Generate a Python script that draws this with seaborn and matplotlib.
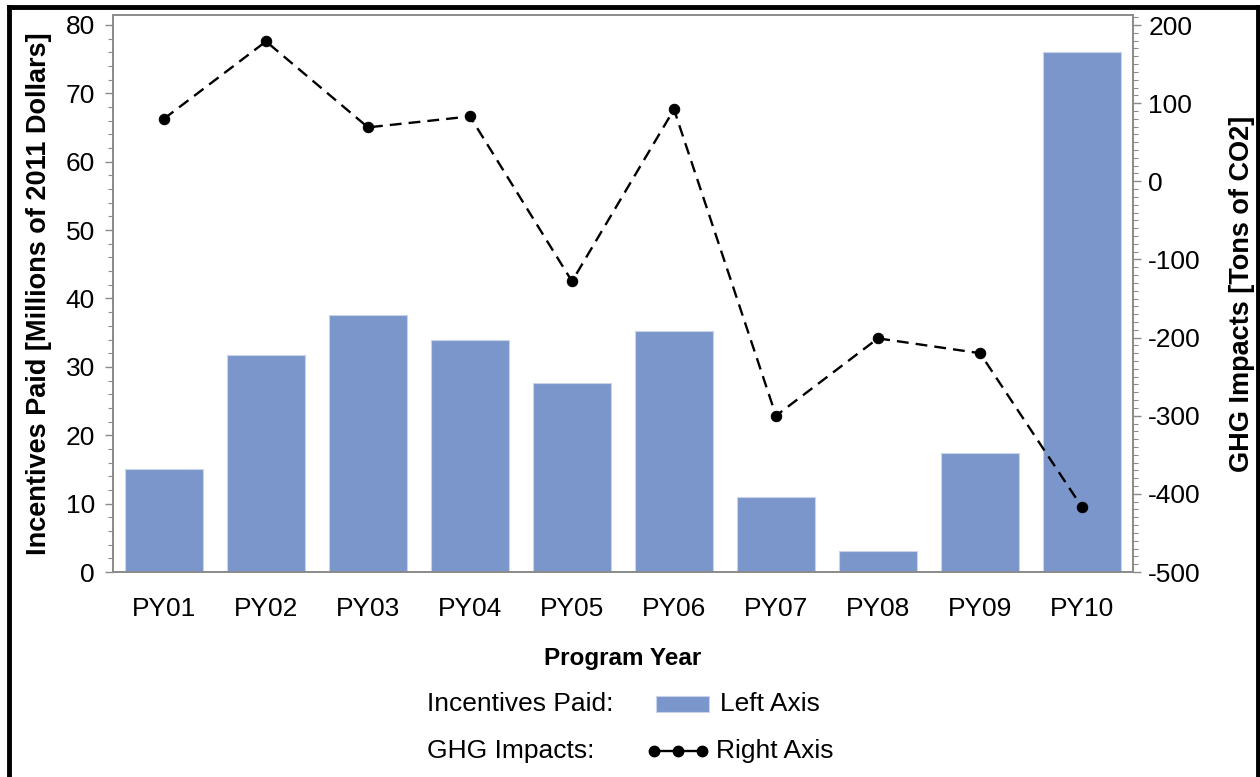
import numpy as np
import pandas as pd
import matplotlib
matplotlib.use("Agg")
import matplotlib.pyplot as plt
from matplotlib.lines import Line2D
from matplotlib.patches import Rectangle
from matplotlib.ticker import MultipleLocator
import seaborn as sns

# Данные
years = ["PY01", "PY02", "PY03", "PY04", "PY05", "PY06", "PY07", "PY08", "PY09", "PY10"]
incentives = [15.0, 31.7, 37.6, 34.0, 27.6, 35.3, 11.0, 3.0, 17.4, 76.1]
ghg = [80, 179, 69, 83, -128, 92, -300, -201, -220, -417]

bar_color = "#7b96cb"
spine_color = "#8a8a8a"

sns.set_theme(style="white")
plt.rcParams["font.family"] = ["Liberation Sans", "DejaVu Sans"]
plt.rcParams["axes.unicode_minus"] = False
plt.rcParams["text.color"] = "black"
plt.rcParams["axes.labelcolor"] = "black"

df = pd.DataFrame({"year": years, "incentives": incentives, "ghg": ghg})

fig = plt.figure(figsize=(12.6, 7.77), dpi=100)
ax = fig.add_axes([113 / 1260, 1 - 572 / 777, 1020 / 1260, 557 / 777])

# Столбцы - левая ось
sns.barplot(data=df, x="year", y="incentives", ax=ax, color=bar_color,
            saturation=1, width=0.755, edgecolor="#c9d3ea", linewidth=0.8)
ax.set_xlim(-0.5, len(years) - 0.5)
ax.set_ylim(0, 81.46)

# Линия - правая ось
ax2 = ax.twinx()
sns.lineplot(x=np.arange(len(years)), y=df["ghg"], ax=ax2, color="black",
             marker="o", markersize=7.5, linewidth=1.7, dashes=False,
             markeredgecolor="black")
ax2.lines[0].set_dashes((5.0, 3.0))
ax2.set_ylim(-500, 212.8)
ax2.set_xlim(-0.5, len(years) - 0.5)

# Оси и подписи
ax.yaxis.set_major_locator(MultipleLocator(10))
ax.yaxis.set_minor_locator(MultipleLocator(2))
ax2.yaxis.set_major_locator(MultipleLocator(100))
ax2.yaxis.set_minor_locator(MultipleLocator(10))

for a in (ax, ax2):
    for s in a.spines.values():
        s.set_color(spine_color)
        s.set_linewidth(1.2)

ax.tick_params(axis="y", which="major", left=True, direction="out", length=6,
               width=1, color=spine_color, labelsize=19, pad=7, labelcolor="black")
ax.tick_params(axis="y", which="minor", left=True, direction="out", length=3.5,
               width=0.8, color=spine_color)
ax.tick_params(axis="x", length=0, labelsize=19, pad=18, labelcolor="black")
ax2.tick_params(axis="y", which="major", right=True, direction="out", length=6,
                width=1, color=spine_color, labelsize=19, pad=5, labelcolor="black")
ax2.tick_params(axis="y", which="minor", right=True, direction="out", length=3.5,
                width=0.8, color=spine_color)

ax.set_xlabel("Program Year", fontsize=17.5, fontweight="bold", labelpad=19)
ax.set_ylabel("Incentives Paid [Millions of 2011 Dollars]", fontsize=19.5,
              fontweight="bold", labelpad=10)
ax2.set_ylabel("GHG Impacts [Tons of CO2]", fontsize=19.5, fontweight="bold",
               labelpad=20)

# Легенда
fig.text(427 / 1260, 1 - 704 / 777, "Incentives Paid:", fontsize=19,
         va="center", ha="left")
fig.text(427 / 1260, 1 - 751 / 777, "GHG Impacts:", fontsize=19,
         va="center", ha="left")
fig.add_artist(Rectangle((656 / 1260, 1 - 712 / 777), 53 / 1260, 16 / 777,
                         transform=fig.transFigure, facecolor=bar_color,
                         edgecolor="#c9d3ea", linewidth=0.8))
fig.add_artist(Line2D(np.array([654, 678, 702]) / 1260, [1 - 751 / 777] * 3,
                      transform=fig.transFigure, color="black", linewidth=1.7,
                      marker="o", markersize=7.5))
fig.text(720 / 1260, 1 - 704 / 777, "Left Axis", fontsize=19, va="center", ha="left")
fig.text(716 / 1260, 1 - 751 / 777, "Right Axis", fontsize=19, va="center", ha="left")

# Рамка
for xs, ys in [([9 / 1260, 9 / 1260], [0, 1 - 7 / 777]),
               ([9 / 1260, 1258 / 1260], [1 - 7 / 777, 1 - 7 / 777]),
               ([1258 / 1260, 1258 / 1260], [0, 1 - 7 / 777])]:
    fig.add_artist(Line2D(xs, ys, transform=fig.transFigure, color="black",
                          linewidth=3.5, solid_capstyle="projecting"))

plt.savefig("out.png", dpi=100)
plt.close()
